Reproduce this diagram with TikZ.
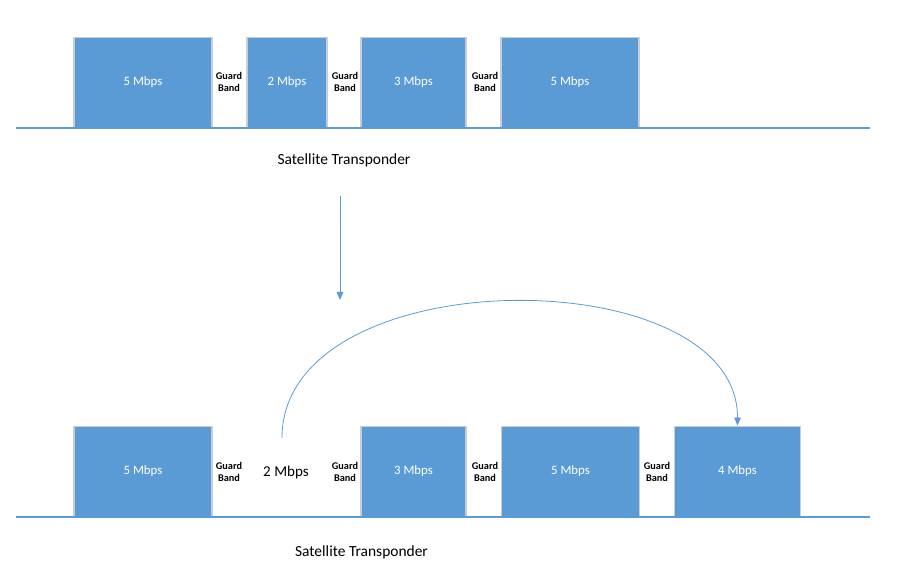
\documentclass[tikz,border=0pt]{standalone}
\usepackage{fontspec}
\setmainfont{Carlito}
\usetikzlibrary{arrows.meta}

\definecolor{bandblue}{HTML}{5B9BD5}
\definecolor{bandedge}{HTML}{C9CED6}

\begin{document}
\begin{tikzpicture}[
  x=0.75pt, y=-0.75pt,
  carrier/.style={rectangle, draw=bandedge, line width=0.9pt, fill=bandblue,
    text=white, font=\fontsize{9.6}{11}\selectfont,
    minimum height=68pt, inner sep=0pt},
  guard/.style={font=\fontsize{7.7}{9}\selectfont\bfseries, align=center,
    inner sep=0pt},
  caption/.style={font=\fontsize{11.6}{13}\selectfont},
  link/.style={draw=bandblue, line width=0.6pt,
    -{Triangle[length=6pt, width=5pt]}}
]
  \useasboundingbox (0,0) rectangle (900,573);

  % Top transponder
  \node[carrier, minimum width=103.5pt] (t1) at (143, 82.5) {5 Mbps};
  \node[guard] (tg1) at (229, 82) {Guard\\Band};
  \node[carrier, minimum width=60pt] (t2) at (287, 82.5) {2 Mbps};
  \node[guard] (tg2) at (345, 82) {Guard\\Band};
  \node[carrier, minimum width=78.75pt] (t3) at (413.5, 82.5) {3 Mbps};
  \node[guard] (tg3) at (485, 82) {Guard\\Band};
  \node[carrier, minimum width=103.5pt] (t4) at (570, 82.5) {5 Mbps};

  \coordinate (tl) at (16, 128);
  \coordinate (tr) at (870, 128);
  \draw[draw=bandblue, line width=0.8pt] (tl) -- (tr);

  \node[caption] (sat1) at (344, 160) {Satellite Transponder};

  % Down arrow
  \coordinate (down1) at (340, 196);
  \coordinate (down2) at (340, 300);
  \draw[link] (down1) -- (down2);

  % Bottom transponder
  \node[carrier, minimum width=103.5pt] (b1) at (143, 471.5) {5 Mbps};
  \node[guard] (bg1) at (229, 472) {Guard\\Band};
  \node[font=\fontsize{11.3}{13}\selectfont] (mv) at (286, 472) {2 Mbps};
  \node[guard] (bg2) at (345, 472) {Guard\\Band};
  \node[carrier, minimum width=78.75pt] (b3) at (413.5, 471.5) {3 Mbps};
  \node[guard] (bg3) at (485, 472) {Guard\\Band};
  \node[carrier, minimum width=104pt] (b4) at (570.5, 471.5) {5 Mbps};
  \node[guard] (bg4) at (657, 472) {Guard\\Band};
  \node[carrier, minimum width=95pt] (b5) at (737.5, 471.5) {4 Mbps};

  \coordinate (bl) at (16, 517);
  \coordinate (br) at (870, 517);
  \draw[draw=bandblue, line width=0.8pt] (bl) -- (br);

  \node[caption] (sat2) at (361.5, 552) {Satellite Transponder};

  % Move of the 2 Mbps carrier
  \coordinate (src) at (282, 438);
  \draw[link] (src) .. controls (282, 258) and (738, 258) .. (b5.north);
\end{tikzpicture}
\end{document}
